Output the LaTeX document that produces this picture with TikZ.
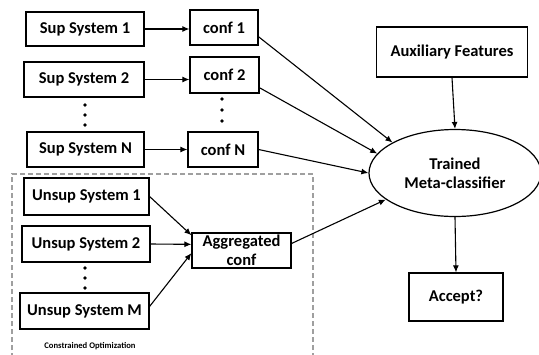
\documentclass[tikz,border=0pt]{standalone}
\usepackage{fontspec}
\setmainfont{Carlito}
\usetikzlibrary{arrows.meta,shapes.geometric}
\begin{document}
\begin{tikzpicture}[x=1pt,y=-1pt,
  box/.style={draw=black,line width=1.2pt,fill=white,inner sep=0pt,align=center,
    font=\bfseries\fontsize{16.5}{19}\selectfont},
  arr/.style={line width=1.1pt,-{Latex[length=7pt,width=6pt]}},
  dotmark/.style={fill=black}]
\useasboundingbox (0,0) rectangle (539,354);
% dashed region
\draw[gray!75,dashed,dash pattern=on 5pt off 3pt,line width=1.2pt] (12,358) -- (12,174) -- (313,174) -- (313,358);
\node[font=\bfseries\fontsize{8.6}{10}\selectfont] (co) at (90,346) {Constrained Optimization};
% sup systems
\node[box,minimum width=118,minimum height=34] (s1) at (85,29) {Sup System 1};
\node[box,minimum width=120,minimum height=35] (s2) at (84,79.5) {Sup System 2};
\node[box,minimum width=117,minimum height=35] (sn) at (85.5,149.5) {Sup System N};
\node[box,minimum width=68,minimum height=35] (c1) at (224,27.5) {conf 1};
\node[box,minimum width=69,minimum height=36] (c2) at (224.5,75) {conf 2};
\node[box,minimum width=70,minimum height=35] (cn) at (223,149.5) {conf N};
% unsup systems
\node[box,minimum width=125,minimum height=37] (u1) at (86.5,196.5) {Unsup System 1};
\node[box,minimum width=128,minimum height=36] (u2) at (86,244) {Unsup System 2};
\node[box,minimum width=129,minimum height=36] (um) at (84.5,311) {Unsup System M};
\node[box,minimum width=99,minimum height=35] (agg) at (241.5,250.5) {Aggregated\\conf};
% right side
\node[box,minimum width=151,minimum height=50] (aux) at (452,52) {Auxiliary Features};
\node[box,ellipse,minimum width=172,minimum height=87] (meta) at (455,173) {Trained\\Meta-classifier};
\node[box,minimum width=94,minimum height=48] (acc) at (456,297) {Accept?};
% dots
\foreach \y in {105,115,125} \fill[dotmark] (85,\y) circle (1.9);
\foreach \y in {99,110,121} \fill[dotmark] (222,\y) circle (1.9);
\foreach \y in {268,278,288} \fill[dotmark] (85,\y) circle (1.9);
% arrows
\draw[arr] (s1.east) -- (s1.east -| c1.west);
\draw[arr] (s2.east) -- (s2.east -| c2.west);
\draw[arr] (sn.east) -- (sn.east -| cn.west);
\draw[arr] (u1.east) -- (agg.163.7);
\draw[arr] (u2.east) -- (agg.173.7);
\draw[arr] (um.4) -- (agg.183);
\draw[arr] (c1.-15) -- (meta.154);
\draw[arr] (c2.-20.6) -- (meta.166);
\draw[arr] (cn.east) -- (meta.180);
\draw[arr] (agg.8) -- (meta.201);
\draw[arr] (aux.south) -- (meta.north);
\draw[arr] (meta.south) -- (acc.north);
\end{tikzpicture}
\end{document}
